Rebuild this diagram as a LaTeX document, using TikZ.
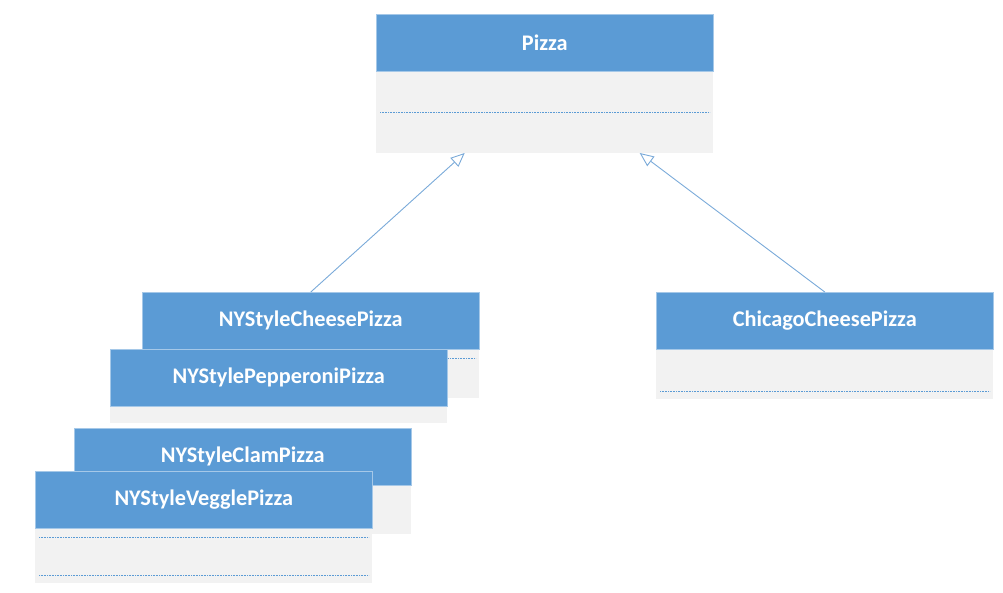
\documentclass[tikz,border=0pt]{standalone}
\usepackage{fontspec}
\setmainfont{Carlito}
\usetikzlibrary{arrows.meta}
\definecolor{hdrblue}{HTML}{5B9BD5}
\definecolor{bodygray}{HTML}{F2F2F2}
\definecolor{linkblue}{HTML}{7AAAD9}
\tikzset{
  hdr/.style={fill=hdrblue, draw=hdrblue!55!white, line width=0.6pt, text=white,
    font=\bfseries\fontsize{22.3}{26}\selectfont, minimum width=337pt, minimum height=57pt,
    inner sep=0pt, anchor=north west},
  bodybox/.style={fill=bodygray, draw=none, minimum width=337pt, inner sep=0pt, anchor=north west},
  dotline/.style={draw=hdrblue, dash pattern=on 0.8pt off 0.8pt, line width=0.7pt},
  inherit/.style={draw=linkblue, line width=0.9pt, -{Triangle[open, length=14pt, width=12pt, fill=white]}}
}
\begin{document}
\begin{tikzpicture}[x=1pt, y=-1pt]
\useasboundingbox (0,0) rectangle (1003,592);
% Pizza
\node[hdr] (pizza) at (376,14) {Pizza};
\node[bodybox, minimum height=81pt] (pizzab) at (pizza.south west) {};
\draw[dotline] ([xshift=4pt,yshift=-41pt]pizza.south west) -- ([xshift=-4pt,yshift=-41pt]pizza.south east);
% Cheese
\node[hdr] (cheese) at (142,292) {NYStyleCheesePizza};
\node[bodybox, minimum height=48pt] (cheeseb) at (cheese.south west) {};
\draw[dotline] ([xshift=4pt,yshift=-9pt]cheese.south west) -- ([xshift=-4pt,yshift=-9pt]cheese.south east);
% Pepperoni
\node[hdr] (pep) at (110,349) {NYStylePepperoniPizza};
\node[bodybox, minimum height=16pt] (pepb) at (pep.south west) {};
% Clam
\node[hdr] (clam) at (74,428) {NYStyleClamPizza};
\node[bodybox, minimum height=48pt] (clamb) at (clam.south west) {};
% Veggle
\node[hdr] (veg) at (35,471) {NYStyleVegglePizza};
\node[bodybox, minimum height=54pt] (vegb) at (veg.south west) {};
\draw[dotline] ([xshift=4pt,yshift=-9pt]veg.south west) -- ([xshift=-4pt,yshift=-9pt]veg.south east);
\draw[dotline] ([xshift=4pt,yshift=-47pt]veg.south west) -- ([xshift=-4pt,yshift=-47pt]veg.south east);
% Chicago
\node[hdr] (chi) at (656,292) {ChicagoCheesePizza};
\node[bodybox, minimum height=49pt] (chib) at (chi.south west) {};
\draw[dotline] ([xshift=4pt,yshift=-42pt]chi.south west) -- ([xshift=-4pt,yshift=-42pt]chi.south east);
% inheritance
\draw[inherit] (cheese.north) -- ([xshift=-80pt]pizzab.south);
\draw[inherit] (chi.north) -- ([xshift=95pt]pizzab.south);
\end{tikzpicture}
\end{document}
